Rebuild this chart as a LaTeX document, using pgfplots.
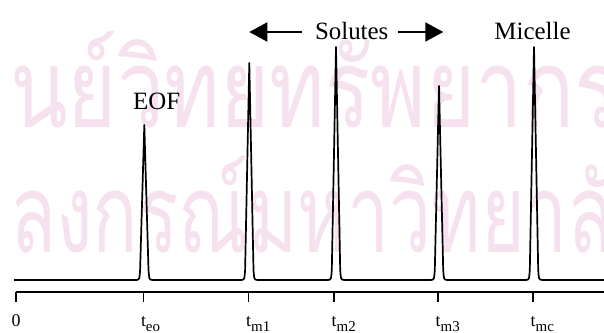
\documentclass[border=0pt]{standalone}
\usepackage{graphicx}
\usepackage{pgfplots}
\pgfplotsset{compat=1.18}
\usepackage{fontspec}
\setmainfont{Liberation Serif}
\newfontfamily\thaifont[Script=Thai]{Loma}
\usetikzlibrary{arrows.meta}
\pgfdeclarelayer{background}
\pgfsetlayers{background,main}
\definecolor{wm}{RGB}{246,225,238}
\newcommand\sub[1]{\raisebox{-5bp}{\fontsize{15}{15}\selectfont #1}}
\begin{document}
\begin{tikzpicture}
\begin{axis}[
  scale only axis, width=588bp, height=292bp,
  xmin=16, xmax=604, ymin=41, ymax=333,
  axis x line=bottom, axis y line=none,
  axis line style={line width=1.6bp, -},
  xtick={16,143.3,248.5,334,438,533},
  xticklabels={\makebox[5bp][c]{0}, t\sub{eo}, t\sub{m1}, t\sub{m2}, t\sub{m3}, t\sub{mc}},
  tick align=outside,
  major tick length=10bp,
  tick style={line width=1.6bp, black},
  xticklabel style={anchor=base west, inner sep=0pt, font=\fontsize{18}{18}\selectfont, xshift=-2.5bp, yshift=-24bp},
  /pgf/number format/assume math mode=true,
  clip=false,
]
\addplot[black, line width=1.7bp, line join=round] coordinates {
 (14,53)
 (136.3,53) (138.3,53.5) (139.3,55) (139.8,59) (140.1,63) (144.3,208) (148.5,63) (148.8,59) (149.3,55) (150.3,53.5) (152.3,53)
 (241.3,53) (243.3,53.5) (244.3,55) (244.8,59) (245.1,63) (249.3,270) (253.5,63) (253.8,59) (254.3,55) (255.3,53.5) (257.3,53)
 (328,53) (330,53.5) (331,55) (331.5,59) (331.8,63) (336,286) (340.2,63) (340.5,59) (341,55) (342,53.5) (344,53)
 (431,53) (433,53.5) (434,55) (434.5,59) (434.8,63) (439,247) (443.2,63) (443.5,59) (444,55) (445,53.5) (447,53)
 (526,53) (528,53.5) (529,55) (529.5,59) (529.8,63) (534,286) (538.2,63) (538.5,59) (539,55) (540,53.5) (542,53)
 (604,53)
};
\node[font=\fontsize{25}{25}\selectfont, inner sep=0pt] at (axis cs:156.7,232) {EOF};
\node[font=\fontsize{25}{25}\selectfont, inner sep=0pt] at (axis cs:351.7,302) {Solutes};
\node[font=\fontsize{25}{25}\selectfont, inner sep=0pt] at (axis cs:532.5,302) {Micelle};
\draw[line width=2bp, -{Triangle[length=18bp,width=19bp]}] (axis cs:301.7,301) -- (axis cs:249.3,301);
\draw[line width=2bp, -{Triangle[length=18bp,width=19bp]}] (axis cs:398.3,301) -- (axis cs:443.3,301);
\coordinate (BL) at (axis cs:0,0);
\coordinate (TR) at (axis cs:604,333);
\coordinate (W1) at (axis cs:10,205);
\coordinate (W2) at (axis cs:10,80);
\end{axis}
\begin{pgfonlayer}{background}
\node[anchor=base west, inner sep=0pt, text=wm, font=\thaifont\fontsize{110}{110}\selectfont] at (W1) {\scalebox{0.77}[1]{นย์วิทยทรัพยากร}};
\node[anchor=base west, inner sep=0pt, text=wm, font=\thaifont\fontsize{110}{110}\selectfont] at (W2) {\scalebox{0.685}[1]{ลงกรณ์มหาวิทยาลัย}};
\end{pgfonlayer}
\pgfresetboundingbox
\path[use as bounding box] (BL) rectangle (TR);
\end{tikzpicture}
\end{document}
